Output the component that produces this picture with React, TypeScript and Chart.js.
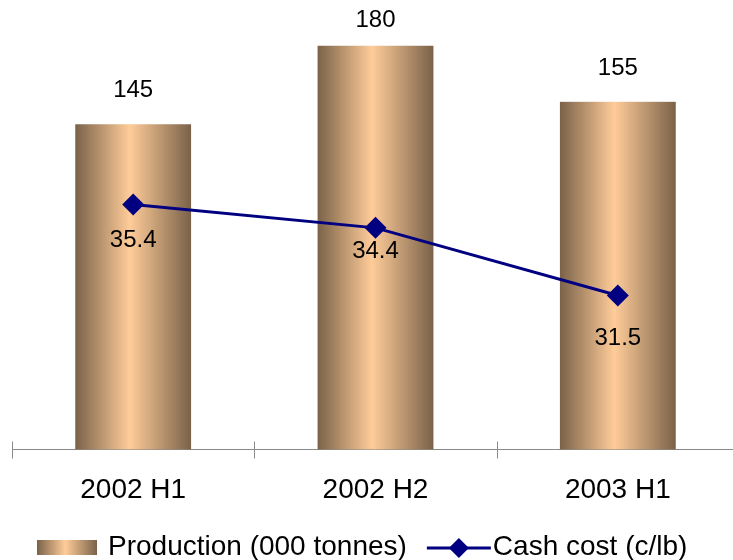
import React, { useEffect, useRef } from "react";
import { Chart, registerables } from "chart.js";

Chart.register(...registerables);

const categories = ["2002 H1", "2002 H2", "2003 H1"];
const production = [145, 180, 155];
const cashCost = [35.4, 34.4, 31.5];
const productionLabel = "Production (000 tonnes)";
const cashCostLabel = "Cash cost (c/lb)";

const FONT = "Arial, 'Liberation Sans', sans-serif";
const NAVY = "#000080";
const DARK = "#7a6249";
const LIGHT = "#ffcc99";

function barGradient(ctx: CanvasRenderingContext2D, x0: number, x1: number) {
  const g = ctx.createLinearGradient(x0, 0, x1, 0);
  g.addColorStop(0, DARK);
  g.addColorStop(0.47, LIGHT);
  g.addColorStop(1, DARK);
  return g;
}

function drawDiamond(ctx: CanvasRenderingContext2D, x: number, y: number, r: number) {
  ctx.beginPath();
  ctx.moveTo(x - r, y);
  ctx.lineTo(x, y - r);
  ctx.lineTo(x + r, y);
  ctx.lineTo(x, y + r);
  ctx.closePath();
  ctx.fillStyle = NAVY;
  ctx.fill();
}

const gradientBars = {
  id: "gradientBars",
  afterDatasetDraw(chart: any, args: any) {
    if (args.meta.type !== "bar") return;
    const ctx = chart.ctx;
    ctx.save();
    args.meta.data.forEach((el: any) => {
      const x0 = el.x - el.width / 2;
      const x1 = el.x + el.width / 2;
      ctx.fillStyle = barGradient(ctx, x0, x1);
      ctx.fillRect(x0, el.y, el.width, el.base - el.y);
    });
    ctx.restore();
  },
};

const axisPlugin = {
  id: "axisPlugin",
  beforeDatasetsDraw(chart: any) {
    const { ctx, chartArea } = chart;
    const xs = chart.scales.x;
    const n = categories.length;
    const w = (xs.right - xs.left) / n;
    const y = Math.round(chartArea.bottom) + 0.5;
    ctx.save();
    ctx.strokeStyle = "#8a8a8a";
    ctx.lineWidth = 1;
    ctx.beginPath();
    ctx.moveTo(xs.left, y);
    ctx.lineTo(xs.right, y);
    for (let i = 0; i <= n; i++) {
      const x = Math.round(xs.left + i * w) + 0.5;
      ctx.moveTo(x, y - 8);
      ctx.lineTo(x, y + 9);
    }
    ctx.stroke();
    ctx.restore();
  },
};

const labelsPlugin = {
  id: "valueLabels",
  afterDatasetsDraw(chart: any, _args: any, opts: any) {
    const ctx = chart.ctx;
    ctx.save();
    ctx.font = `24px ${FONT}`;
    ctx.fillStyle = "#000";
    ctx.textAlign = "center";
    ctx.textBaseline = "middle";
    chart.data.datasets.forEach((ds: any, di: number) => {
      const meta = chart.getDatasetMeta(di);
      const offs = meta.type === "bar" ? opts.barOffsets : opts.lineOffsets;
      meta.data.forEach((el: any, i: number) => {
        ctx.fillText(String(ds.data[i]), el.x, el.y + offs[i]);
      });
    });
    ctx.restore();
  },
};

const legendPlugin = {
  id: "customLegend",
  afterDraw(chart: any) {
    const { ctx, chartArea } = chart;
    ctx.save();
    ctx.font = `28px ${FONT}`;
    const t1 = ctx.measureText(productionLabel).width;
    const sw = 60, g1 = 11, g2 = 20, lw = 64, g3 = 2;
    let x = chartArea.left + 25;
    const base = 555;
    ctx.fillStyle = barGradient(ctx, x, x + sw);
    ctx.fillRect(x, base - 15, sw, 15);
    x += sw + g1;
    ctx.fillStyle = "#000";
    ctx.textBaseline = "alphabetic";
    ctx.textAlign = "left";
    ctx.fillText(productionLabel, x, base);
    x += t1 + g2;
    ctx.strokeStyle = NAVY;
    ctx.lineWidth = 3;
    ctx.beginPath();
    ctx.moveTo(x, base - 7);
    ctx.lineTo(x + lw, base - 7);
    ctx.stroke();
    drawDiamond(ctx, x + lw / 2, base - 7, 10);
    x += lw + g3;
    ctx.fillStyle = "#000";
    ctx.fillText(cashCostLabel, x, base);
    ctx.restore();
  },
};

export default function App() {
  const ref = useRef<HTMLCanvasElement | null>(null);
  useEffect(() => {
    if (!ref.current) return;
    const chart = new Chart(ref.current, {
      type: "bar",
      data: {
        labels: categories,
        datasets: [
          {
            type: "line",
            label: cashCostLabel,
            data: cashCost,
            yAxisID: "y1",
            borderColor: NAVY,
            backgroundColor: NAVY,
            borderWidth: 3,
            pointStyle: "rectRot",
            pointRadius: 11,
            pointHoverRadius: 11,
            pointBorderWidth: 0,
            order: 0,
          } as any,
          {
            type: "bar",
            label: productionLabel,
            data: production,
            yAxisID: "y",
            backgroundColor: "rgba(0,0,0,0)",
            barPercentage: 0.478,
            categoryPercentage: 1,
            order: 1,
          },
        ],
      },
      options: {
        responsive: false,
        animation: false,
        devicePixelRatio: 1,
        layout: { padding: { left: 12, right: 9, top: 0, bottom: 37 } },
        plugins: {
          legend: { display: false },
          tooltip: { enabled: false },
          valueLabels: {
            barOffsets: [-34, -25, -33],
            lineOffsets: [36, 24, 43],
          },
        } as any,
        scales: {
          x: {
            offset: true,
            grid: { display: false },
            border: { display: false },
            ticks: {
              color: "#000",
              font: { family: FONT, size: 28 },
              padding: 16,
              maxRotation: 0,
            },
          },
          y: { display: false, min: 0, max: 195.5 },
          y1: { display: false, min: 24.9, max: 43.7, position: "right" },
        },
      },
      plugins: [axisPlugin, gradientBars, labelsPlugin, legendPlugin],
    });
    return () => chart.destroy();
  }, []);
  return (
    <div
      style={{
        position: "fixed",
        left: 0,
        top: 0,
        width: 733,
        height: 560,
        overflow: "hidden",
        background: "#fff",
      }}
    >
      <canvas ref={ref} width={750} height={560} style={{ display: "block" }} />
    </div>
  );
}
